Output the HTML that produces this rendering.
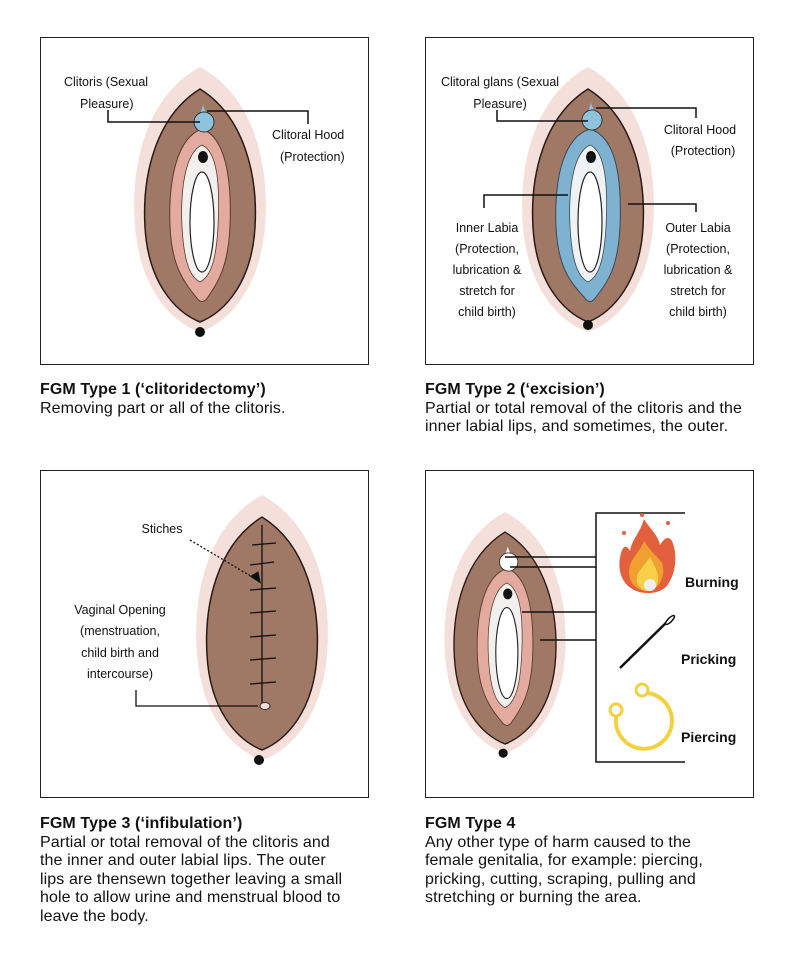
<!DOCTYPE html>
<html><head><meta charset="utf-8"><style>
body{margin:0;background:#fff;width:798px;height:962px;overflow:hidden;font-family:"Liberation Sans",sans-serif}
svg{position:absolute;left:0;top:0}
.cap{position:absolute;font-size:16px;line-height:18.5px;color:#111;width:360px;letter-spacing:0.1px;white-space:nowrap}
.cap b{font-weight:bold}
</style></head><body>
<svg width="798" height="962" viewBox="0 0 798 962" font-family="Liberation Sans, sans-serif">
<defs>
<g id="v">
<path d="M0,0 C55,30 70,100 65,160 C60,220 30,255 0,265 C-30,255 -60,220 -65,160 C-70,100 -55,30 0,0Z" fill="#f4dfdb"/>
<path d="M0,22 C45,50 58,110 55,160 C52,215 25,245 0,255 C-25,245 -52,215 -55,160 C-58,110 -45,50 0,22Z" fill="#a07866" stroke="#2a1a14" stroke-width="1.5"/>
</g>
<g id="inner">
<path d="M2,62 C25,70 32,110 30,160 C28,200 18,215 8,230 C4,236 0,236 -4,230 C-16,215 -28,200 -30,160 C-32,110 -22,70 2,62Z" fill="#e3aaa0" stroke="#5a3a30" stroke-width="1"/>
<path d="M2,78 C18,85 20,120 18,160 C16,195 10,210 0,215 C-10,210 -16,195 -18,160 C-20,120 -14,85 2,78Z" fill="#f2f0ee" stroke="#5a3a30" stroke-width="0.8"/>
<ellipse cx="2" cy="155" rx="12" ry="50" fill="#fff" stroke="#222" stroke-width="1.2"/>
<ellipse cx="3" cy="90" rx="5" ry="6" fill="#111"/>
</g>
</defs>
<g fill="none" stroke="#222" stroke-width="1">
<rect x="40.5" y="37.5" width="328" height="327"/>
<rect x="425.5" y="37.5" width="328" height="327"/>
<rect x="40.5" y="470.5" width="328" height="327"/>
<rect x="425.5" y="470.5" width="328" height="327"/>
</g>
<g transform="translate(200,67)">
<use href="#v"/><use href="#inner"/>
<path d="M3,38 L10,58 L-3,58Z" fill="#8fc3dd"/>
<circle cx="4" cy="55" r="10" fill="#8fc3dd" stroke="#333"/>
<circle cx="0" cy="265" r="5" fill="#111"/>
</g>
<g stroke="#111" stroke-width="1.5" fill="none">
<polyline points="108,110 108,122 200,122"/>
<polyline points="207,111 308,111 308,124"/>
</g>
<g font-size="12.5" fill="#111">
<text x="64" y="86">Clitoris (Sexual</text><text x="80" y="108">Pleasure)</text>
<text x="272" y="139">Clitoral Hood</text><text x="280" y="161">(Protection)</text>
</g>
<g transform="translate(588,67)">
<use href="#v"/>
<path d="M2,62 C28,70 34,110 32,160 C30,200 20,215 8,230 C4,236 0,236 -4,230 C-18,215 -30,200 -32,160 C-34,110 -24,70 2,62Z" fill="#7fb2d0" stroke="#3a4a55" stroke-width="1"/>
<path d="M2,78 C18,85 20,120 18,160 C16,195 10,210 0,215 C-10,210 -16,195 -18,160 C-20,120 -14,85 2,78Z" fill="#eef2f4" stroke="#3a4a55" stroke-width="0.8"/>
<ellipse cx="2" cy="155" rx="12" ry="50" fill="#fff" stroke="#222" stroke-width="1.2"/>
<ellipse cx="3" cy="90" rx="5" ry="6" fill="#111"/>
<path d="M3,36 L10,54 L-3,54Z" fill="#8fc3dd"/>
<circle cx="4" cy="53" r="10" fill="#8fc3dd" stroke="#333"/>
<circle cx="0" cy="258" r="5" fill="#111"/>
</g>
<g stroke="#111" stroke-width="1.5" fill="none">
<polyline points="497,110 497,121 588,121"/>
<polyline points="596,108 696,108 696,118"/>
<polyline points="484,208 484,195 568,195"/>
<polyline points="628,204 696,204 696,212"/>
</g>
<g font-size="12.5" fill="#111" text-anchor="middle">
<text x="500" y="86">Clitoral glans (Sexual</text><text x="500" y="108">Pleasure)</text>
<text x="700" y="134">Clitoral Hood</text><text x="703" y="155">(Protection)</text>
<text x="487" y="232">Inner Labia</text><text x="487" y="253">(Protection,</text><text x="487" y="274">lubrication &amp;</text><text x="487" y="295">stretch for</text><text x="487" y="316">child birth)</text>
<text x="698" y="232">Outer Labia</text><text x="698" y="253">(Protection,</text><text x="698" y="274">lubrication &amp;</text><text x="698" y="295">stretch for</text><text x="698" y="316">child birth)</text>
</g>
<g transform="translate(262,495)">
<use href="#v"/>
<circle cx="-3" cy="265" r="5" fill="#111"/>
</g>
<g stroke="#111" stroke-width="1.3" fill="none">
<line x1="262" y1="525" x2="262" y2="705"/>
<path d="M252,545 L276,543 M250,565 L274,562 M250,590 L276,588 M250,613 L276,611 M250,637 L276,635 M250,660 L276,658 M250,684 L276,682"/>
<line x1="190" y1="540" x2="254" y2="578" stroke-dasharray="2,2"/>
<polyline points="136,690 136,706 258,706"/>
</g>
<path d="M258,585 L252,573 L262,573Z" fill="#111" transform="rotate(-30 257 579)"/>
<ellipse cx="265" cy="706" rx="5" ry="3.5" fill="#f4dfdb" stroke="#333"/>
<g font-size="12.5" fill="#111" text-anchor="middle">
<text x="162" y="533">Stiches</text>
<text x="120" y="614">Vaginal Opening</text><text x="120" y="635">(menstruation,</text><text x="120" y="657">child birth and</text><text x="120" y="678">intercourse)</text>
</g>
<g transform="translate(505,512) scale(0.92,0.91)">
<use href="#v"/><use href="#inner"/>
<path d="M3,38 L10,58 L-3,58Z" fill="#f4f0ea"/>
<circle cx="4" cy="55" r="10" fill="#fff" stroke="#333"/>
<circle cx="-2" cy="265" r="5" fill="#111"/>
</g>
<g stroke="#111" stroke-width="1.5" fill="none">
<polyline points="685,513 596,513 596,762 685,762"/>
<line x1="505" y1="557" x2="596" y2="557"/>
<line x1="510" y1="567" x2="596" y2="567"/>
<line x1="522" y1="612" x2="596" y2="612"/>
<line x1="540" y1="640" x2="596" y2="640"/>
</g>
<g transform="translate(648,555)">
<path d="M0,38 C-22,38 -33,20 -27,-2 C-24,-12 -20,-8 -18,-4 C-16,-16 -8,-22 -4,-36 C2,-26 10,-20 12,-10 C16,-16 20,-20 24,-14 C30,0 28,20 18,32 C12,37 6,38 0,38Z" fill="#e2603e"/>
<path d="M0,36 C-14,36 -22,24 -18,10 C-14,0 -8,-4 -4,-14 C2,-4 10,2 14,8 C18,20 12,34 0,36Z" fill="#f0a030"/>
<path d="M0,36 C-8,36 -14,28 -10,18 C-6,12 -2,8 2,2 C6,10 10,16 10,24 C10,32 6,36 0,36Z" fill="#f7d048"/>
<circle cx="2" cy="30" r="6" fill="#eee"/>
<circle cx="-6" cy="-40" r="2" fill="#e2603e"/><circle cx="20" cy="-32" r="2" fill="#e2603e"/><circle cx="-24" cy="-22" r="2" fill="#e2603e"/>
</g>
<line x1="620" y1="668" x2="672" y2="617" stroke="#111" stroke-width="2.5"/>
<ellipse cx="670" cy="620" rx="2" ry="6" transform="rotate(45 670 620)" fill="#fff" stroke="#111" stroke-width="1.5"/>
<path d="M640,693 A28,28 0 1 1 617,713" fill="none" stroke="#f2d040" stroke-width="4"/>
<circle cx="642" cy="690" r="6" fill="#fff" stroke="#f2d040" stroke-width="3"/>
<circle cx="616" cy="710" r="6" fill="#fff" stroke="#f2d040" stroke-width="3"/>
<g font-size="14" font-weight="bold" fill="#111">
<text x="685" y="587">Burning</text><text x="681" y="664">Pricking</text><text x="681" y="742">Piercing</text>
</g>
</svg>
<div class="cap" style="left:40px;top:381px"><b>FGM Type 1 (‘clitoridectomy’)</b><br>Removing part or all of the clitoris.</div>
<div class="cap" style="left:425px;top:381px"><b>FGM Type 2 (‘excision’)</b><br>Partial or total removal of the clitoris and the<br>inner labial lips, and sometimes, the outer.</div>
<div class="cap" style="left:40px;top:815px"><b>FGM Type 3 (‘infibulation’)</b><br>Partial or total removal of the clitoris and<br>the inner and outer labial lips. The outer<br>lips are thensewn together leaving a small<br>hole to allow urine and menstrual blood to<br>leave the body.</div>
<div class="cap" style="left:425px;top:815px"><b>FGM Type 4</b><br>Any other type of harm caused to the<br>female genitalia, for example: piercing,<br>pricking, cutting, scraping, pulling and<br>stretching or burning the area.</div>
</body></html>
